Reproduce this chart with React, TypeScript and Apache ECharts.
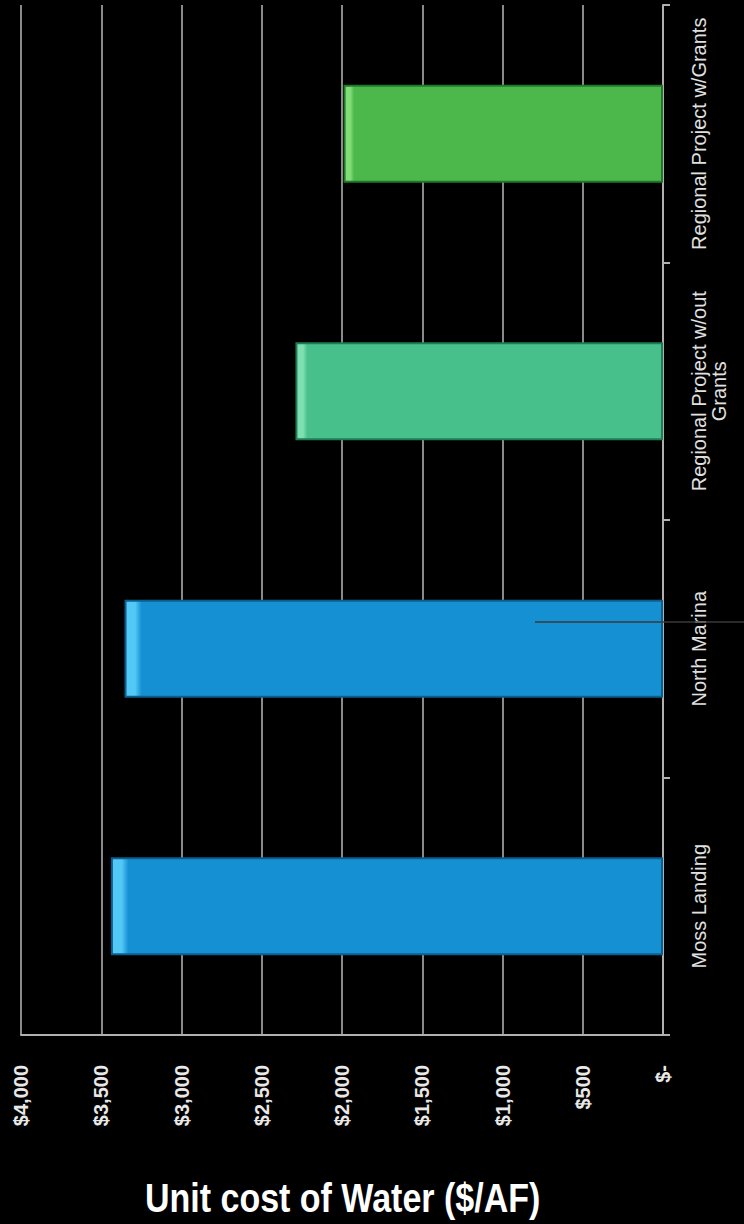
import React, { useEffect, useRef } from "react";
import * as echarts from "echarts";

const categories = [
  "Moss Landing",
  "North Marina",
  "Regional Project w/out\nGrants",
  "Regional Project w/Grants",
];
const unitCosts = [3440, 3355, 2290, 1990];
const barMainColors = ["#1591d3", "#1591d3", "#48c08c", "#4cb84c"];
const barLightColors = ["#52c8f7", "#52c8f7", "#7ee0b0", "#82dc78"];
const barEdgeColors = ["#0b5f8e", "#0b5f8e", "#1f7d55", "#22782a"];
const valueTicks = [0, 500, 1000, 1500, 2000, 2500, 3000, 3500, 4000];
const titleText = "Unit cost of Water ($/AF)";

function fmtMoney(v: number): string {
  if (v === 0) return "$-";
  const s = String(Math.round(v));
  return "$" + s.replace(/\B(?=(\d{3})+(?!\d))/g, ",");
}

export default function App() {
  const ref = useRef<HTMLDivElement>(null);
  useEffect(() => {
    if (!ref.current) return;
    const chart = echarts.init(ref.current, undefined, { renderer: "svg" });
    const data = unitCosts.map((v, i) => ({
      value: v,
      itemStyle: {
        color: new echarts.graphic.LinearGradient(0, 0, 1, 0, [
          { offset: 0, color: barLightColors[i] },
          { offset: 0.018, color: barLightColors[i] },
          { offset: 0.03, color: barMainColors[i] },
          { offset: 1, color: barMainColors[i] },
        ]),
        borderColor: barEdgeColors[i],
        borderWidth: 2,
      },
    }));
    chart.setOption({
      animation: false,
      backgroundColor: "#000000",
      grid: { left: 21, right: 81, top: 5, bottom: 189, containLabel: false },
      xAxis: {
        type: "value",
        inverse: true,
        min: valueTicks[0],
        max: valueTicks[valueTicks.length - 1],
        interval: 500,
        position: "bottom",
        axisLine: { show: true, lineStyle: { color: "#b0b0b0", width: 2 } },
        axisTick: { show: false },
        splitLine: { show: true, lineStyle: { color: "#8a8a8a", width: 2 } },
        axisLabel: {
          rotate: 90,
          margin: 30,
          align: "right",
          verticalAlign: "middle",
          color: "#e8e8e8",
          fontFamily: "'Liberation Sans', Arial, sans-serif",
          fontSize: 20,
          fontWeight: "bold",
          formatter: (v: number) => fmtMoney(v),
        },
      },
      yAxis: {
        type: "category",
        position: "right",
        data: categories,
        axisLine: { show: true, lineStyle: { color: "#b0b0b0", width: 2 } },
        axisTick: { show: true, length: 7, alignWithLabel: false, lineStyle: { color: "#b0b0b0", width: 2 } },
        axisLabel: {
          interval: 0,
          rotate: 90,
          margin: 26,
          color: "#e0e0e0",
          fontFamily: "'Liberation Sans', Arial, sans-serif",
          fontSize: 20,
          lineHeight: 20,
        },
      },
      graphic: [
        {
          type: "text",
          x: 145,
          y: 1198,
          scaleX: 0.85,
          style: {
            text: titleText,
            x: 0,
            y: 0,
            fill: "#ffffff",
            font: "bold 40px 'Liberation Sans', Arial, sans-serif",
            textVerticalAlign: "middle",
            textAlign: "left",
          },
        },
        {
          type: "line",
          shape: { x1: 535, y1: 622, x2: 744, y2: 622 },
          style: { stroke: "#3a3a3a", lineWidth: 1.5 },
          z: 100,
        },
      ],
      series: [
        {
          type: "bar",
          data,
          barWidth: "38%",
        },
      ],
    });
    return () => chart.dispose();
  }, []);
  return (
    <div
      ref={ref}
      style={{ position: "absolute", left: 0, top: 0, width: 744, height: 1224, background: "#000" }}
    />
  );
}
